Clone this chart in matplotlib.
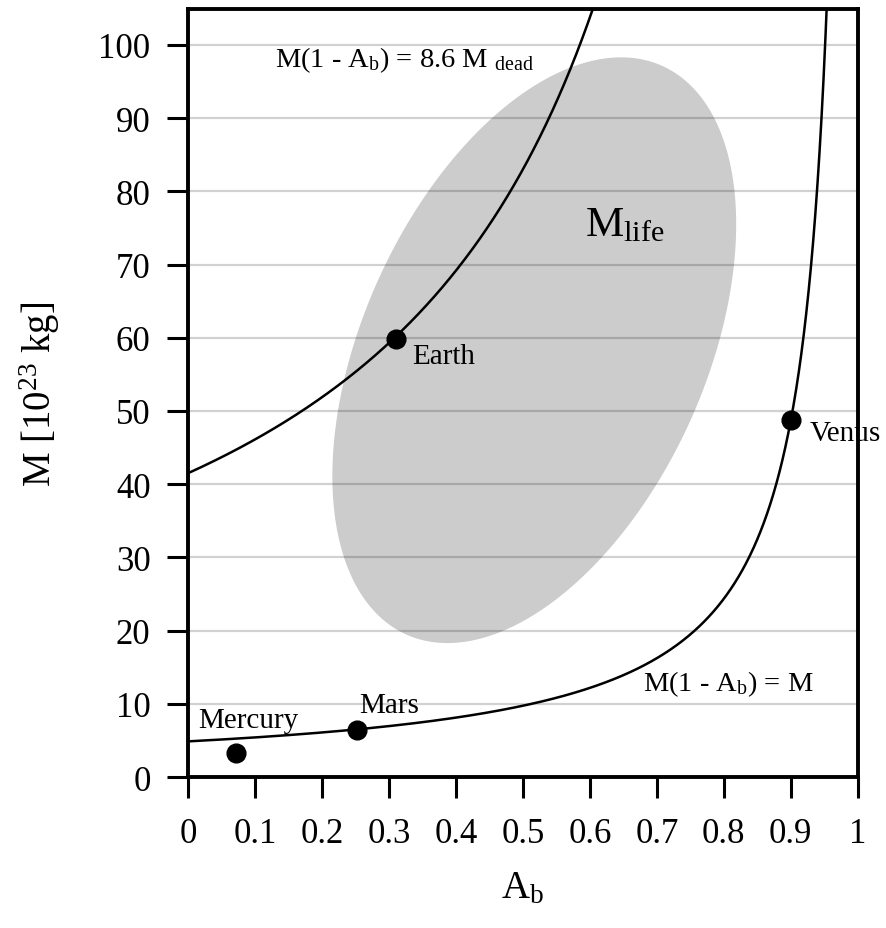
import numpy as np
import matplotlib
matplotlib.use("Agg")
import matplotlib.pyplot as plt
from matplotlib.patches import Polygon

plt.rcParams['font.family'] = ['Liberation Serif', 'DejaVu Serif']
plt.rcParams['mathtext.fontset'] = 'custom'
plt.rcParams['mathtext.rm'] = 'Liberation Serif'
plt.rcParams['mathtext.it'] = 'Liberation Serif:italic'
plt.rcParams['mathtext.default'] = 'regular'

# ---- data ----
planet_names = ["Mercury", "Mars", "Earth", "Venus"]
planet_albedo = [0.071, 0.252, 0.311, 0.90]
planet_mass = [3.3, 6.45, 59.8, 48.7]

M_dead = 4.87          # lower curve constant: M(1-A) = M_dead
M_upper = 41.5         # upper curve constant: M(1-A) = 8.6 M_dead

# habitable region (ellipse): centre, spreads, correlation
life_center = (0.517, 58.3)
life_sx = 0.3015
life_sy = 40.0
life_rho = 0.43

x_ticks = [0, 0.1, 0.2, 0.3, 0.4, 0.5, 0.6, 0.7, 0.8, 0.9, 1]
x_ticklabels = ["0", "0.1", "0.2", "0.3", "0.4", "0.5", "0.6", "0.7", "0.8", "0.9", "1"]
y_ticks = [0, 10, 20, 30, 40, 50, 60, 70, 80, 90, 100]

# ---- figure ----
fig = plt.figure(figsize=(8.87, 9.29), dpi=100)
ax = fig.add_axes([0.212, 0.1625, 0.755, 0.8267])

# ellipse
t = np.linspace(0, 2 * np.pi, 500)
ex = life_center[0] + life_sx * np.cos(t)
ey = life_center[1] + life_sy * (life_rho * np.cos(t) + np.sqrt(1 - life_rho ** 2) * np.sin(t))
ax.add_patch(Polygon(np.column_stack([ex, ey]), closed=True, facecolor='#cccccc',
                     edgecolor='none', zorder=1))

# gridlines (drawn over the ellipse, semi-transparent)
for yv in y_ticks[1:]:
    ax.axhline(yv, color='black', alpha=0.18, lw=1.6, zorder=1.5)

# curves
A = np.linspace(0, 0.995, 3000)
ax.plot(A, M_dead / (1 - A), color='black', lw=1.8, zorder=2)
ax.plot(A, M_upper / (1 - A), color='black', lw=1.8, zorder=2)

# planets
ax.plot(planet_albedo, planet_mass, 'o', color='black', markersize=13.5, zorder=3)

fs_name = 21
ax.text(0.0155, 6.9, "Mercury", fontsize=fs_name, ha='left', va='baseline', zorder=1)
ax.text(0.2557, 8.9, "Mars", fontsize=fs_name, ha='left', va='baseline', zorder=1)
ax.text(0.335, 56.5, "Earth", fontsize=fs_name, ha='left', va='baseline', zorder=1)
ax.text(0.928, 46.0, "Venus", fontsize=fs_name, ha='left', va='baseline', zorder=1,
        clip_on=False)

ax.text(0.130, 97.1, r"M(1 - A$_{b}$) = 8.6 M $_{dead}$", fontsize=20.5,
        ha='left', va='baseline', zorder=1)
ax.text(0.680, 11.9, r"M(1 - A$_{b}$) = M", fontsize=20.5,
        ha='left', va='baseline', zorder=1)
ax.text(0.593, 74.0, r"M$_{life}$", fontsize=31, ha='left', va='baseline', zorder=1)

# axes styling
ax.set_xlim(0, 1)
ax.set_ylim(0, 104.9)
ax.set_xticks(x_ticks)
ax.set_xticklabels(x_ticklabels)
ax.set_yticks(y_ticks)
ax.tick_params(axis='both', direction='out', length=15, width=2.2, labelsize=25)
ax.tick_params(axis='x', pad=14)
ax.tick_params(axis='y', pad=12)
for s in ax.spines.values():
    s.set_linewidth(2.8)
    s.set_zorder(5)

ax.set_xlabel(r"A$_{b}$", fontsize=28, labelpad=14)
ax.set_ylabel(r"M [10$^{23}$ kg]", fontsize=28, labelpad=26)

fig.savefig("out.png", dpi=100)
